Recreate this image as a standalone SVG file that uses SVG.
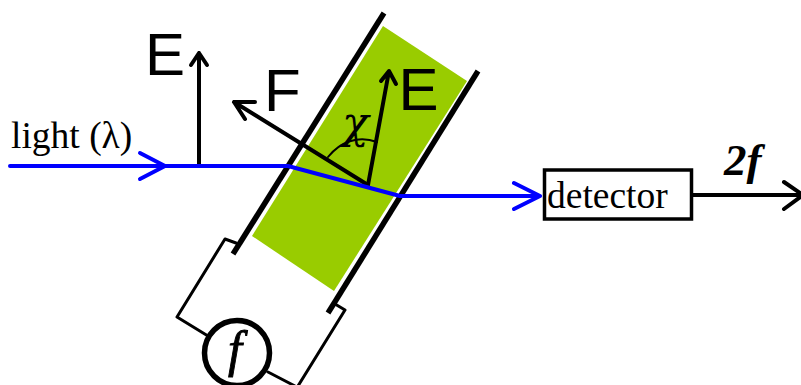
<svg xmlns="http://www.w3.org/2000/svg" width="801" height="385" viewBox="0 0 801 385">
<style>
.k{fill:none;stroke:#000;stroke-linecap:round;stroke-linejoin:round}
.b{fill:none;stroke:#00f;stroke-width:4;stroke-linecap:round;stroke-linejoin:round}
.s{font-family:"Liberation Sans",Arial,sans-serif;font-size:60px;fill:#000}
.t{font-family:"Liberation Serif","Times New Roman",serif;font-size:37.5px;fill:#000}
</style>
<rect width="801" height="385" fill="#fff"/>
<g id="sample">
<polygon points="383,26 467,81 334,291 252,236" fill="#9c0"/>
<path d="M384,13 L233,254" fill="none" stroke="#000" stroke-width="5.5"/>
<path d="M478,71 L328,313" fill="none" stroke="#000" stroke-width="5.5"/>
</g>
<g id="connectors">
<path class="k" stroke-width="3" d="M236,243 L225,239 L177,317 L208,336"/>
<path class="k" stroke-width="3" d="M335,304 L345,310 L298,386"/>
<path class="k" stroke-width="3" d="M268,372 L295,386"/>
<path class="k" stroke-width="4" d="M199,165 V53 M191,65 L199,53 L207,65"/>
<path class="k" stroke-width="4" d="M368,185 L234,102 M255,102 L234,102 L245,119"/>
<path class="k" stroke-width="4" d="M368,185 L389,71 M381,81 L389,71 L396,84"/>
<path class="k" stroke-width="2" d="M328,157 C340,142 358,135 377,142"/>
<path class="b" d="M10,166 H165 M140,153 L165,166 L140,179"/>
<path class="b" d="M165,166 H288 L400,196 H540 M514,183 L540,196 L514,209"/>
<path class="k" stroke-width="4" d="M691,195 H803 M784,182 L803,195 L784,209"/>
</g>
<g id="label-light"><text class="t" x="11" y="148">light (λ)</text></g>
<g id="label-E1"><text class="s" x="145" y="75">E</text></g>
<g id="label-F"><text class="s" x="264" y="111">F</text></g>
<g id="label-E2"><text class="s" x="398.5" y="110">E</text></g>
<g id="label-chi"><text x="342" y="138" font-family="'DejaVu Serif',serif" font-style="italic" font-size="44px">χ</text></g>
<g id="detector">
<rect x="544.5" y="170" width="147" height="49" fill="#fff" stroke="#000" stroke-width="3.5"/>
<text class="t" x="547" y="208">detector</text>
</g>
<g id="label-2f"><text x="724" y="175" font-family="'Liberation Serif',serif" font-style="italic" font-weight="bold" font-size="45px">2f</text></g>
<g id="source">
<circle cx="237" cy="353" r="32.5" fill="#fff" stroke="#000" stroke-width="5.5"/>
<text x="235" y="366" text-anchor="middle" font-family="'Liberation Serif',serif" font-style="italic" font-size="50px" stroke="#000" stroke-width="0.9">f</text>
</g>
</svg>
